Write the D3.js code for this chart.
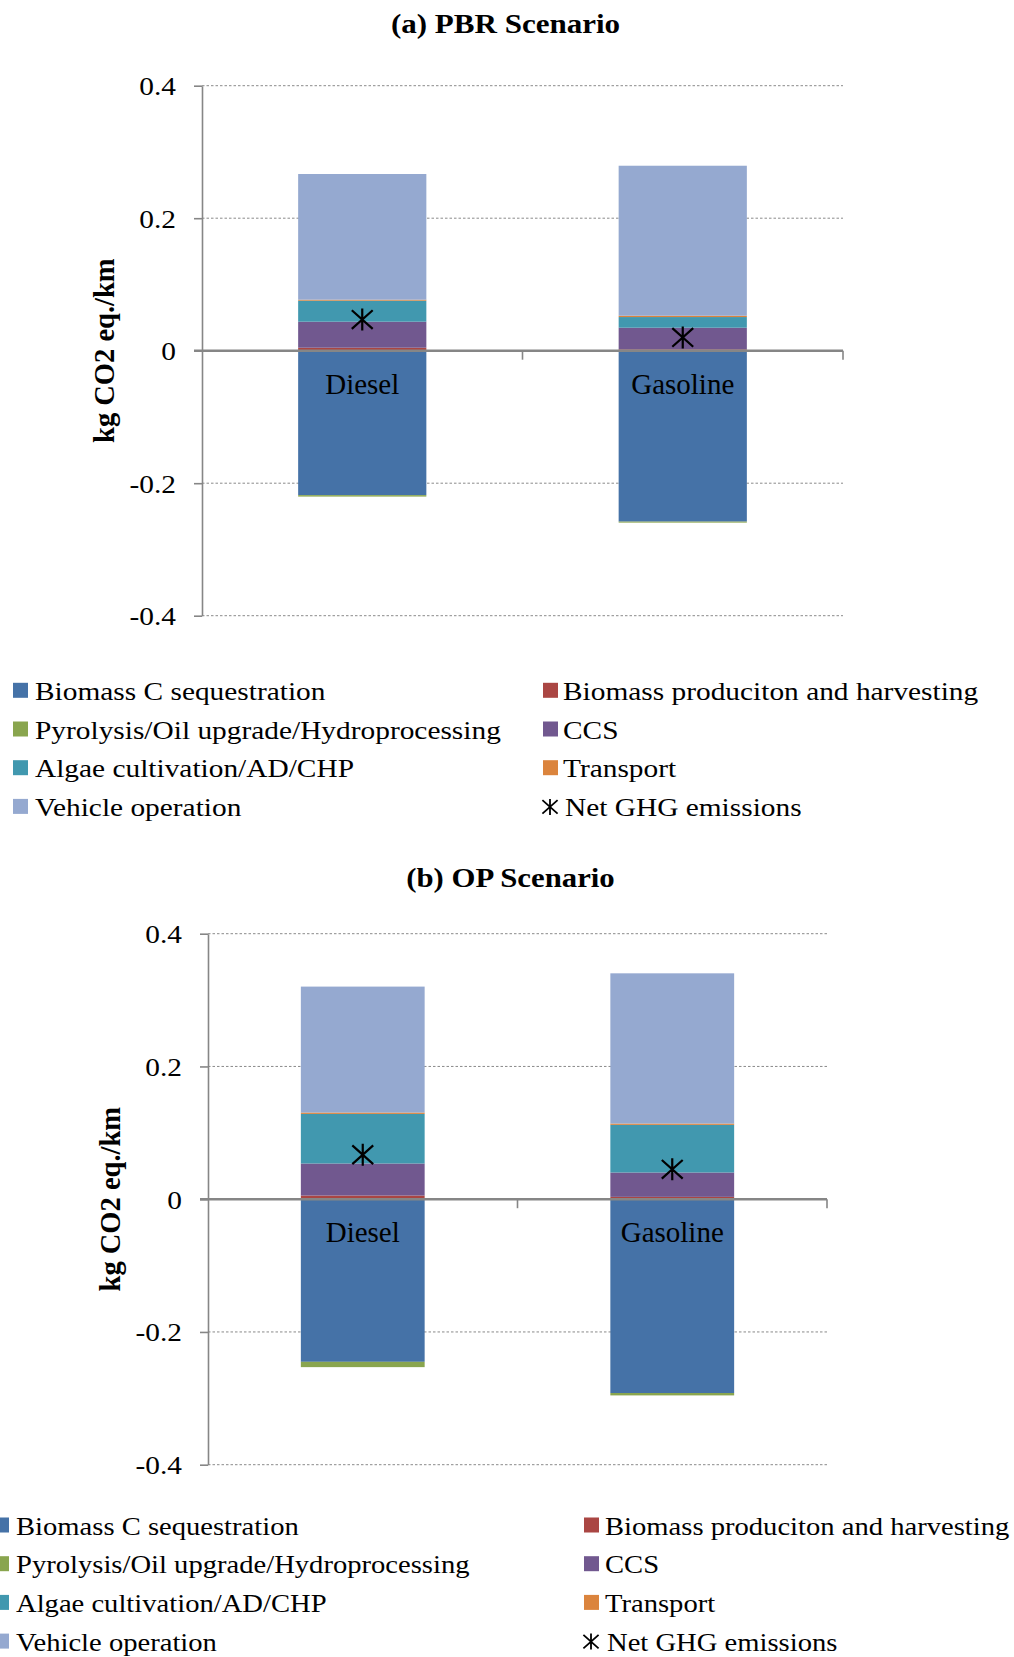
<!DOCTYPE html>
<html>
<head>
<meta charset="utf-8">
<script src="https://cdn.jsdelivr.net/npm/d3@7"></script>
<style>
  body { margin: 0; background: #fff; }
  svg { display: block; font-family: "Liberation Serif", "Times New Roman", serif; }
</style>
</head>
<body>
<svg id="chart" width="1014" height="1657"></svg>
<script>
// ---------------- DATA ----------------
const categories = ["Diesel", "Gasoline"];
const seriesNames = [
  "Biomass C sequestration",
  "Biomass produciton and harvesting",
  "Pyrolysis/Oil upgrade/Hydroprocessing",
  "CCS",
  "Algae cultivation/AD/CHP",
  "Transport",
  "Vehicle operation"
];
const seriesColors = ["#4572A7", "#AA4643", "#89A54E", "#71588F", "#4198AF", "#DB843D", "#95A9D0"];
const netName = "Net GHG emissions";

// values in series order (kg CO2 eq./km)
const pbrDiesel   = [-0.218, 0.0045, -0.0022, 0.0393, 0.0317, 0.0015, 0.1897];
const pbrGasoline = [-0.258, 0.0020, -0.0015, 0.0327, 0.0161, 0.0020, 0.2264];
const opDiesel    = [-0.245, 0.0055, -0.0080, 0.0483, 0.0747, 0.0021, 0.1897];
const opGasoline  = [-0.292, 0.0035, -0.0036, 0.0367, 0.0718, 0.0020, 0.2263];
const pbrNet = [0.047, 0.020];
const opNet  = [0.067, 0.045];

const yTicks = [-0.4, -0.2, 0, 0.2, 0.4];
const yTickLabels = ["-0.4", "-0.2", "0", "0.2", "0.4"];
const yLabel = "kg CO2 eq./km";
const titles = ["(a) PBR Scenario", "(b) OP Scenario"];

// ---------------- LAYOUT ----------------
const svg = d3.select("#chart");
svg.append("rect").attr("width", 1014).attr("height", 1657).attr("fill", "#fff");

function addText(g, x, y, str, o) {
  return g.append("text")
    .attr("transform", `translate(${x},${y}) scale(${o.sx || 1},1)`)
    .attr("text-anchor", o.anchor || "start")
    .attr("font-size", o.size)
    .attr("font-weight", o.weight || "normal")
    .attr("fill", "#000")
    .text(str);
}

function asterisk(g, cx, cy, r, w) {
  const p = d3.path();
  p.moveTo(cx, cy - r); p.lineTo(cx, cy + r);
  p.moveTo(cx - r * 0.95, cy - r * 0.85); p.lineTo(cx + r * 0.95, cy + r * 0.85);
  p.moveTo(cx - r * 0.95, cy + r * 0.85); p.lineTo(cx + r * 0.95, cy - r * 0.85);
  g.append("path").attr("d", p.toString()).attr("stroke", "#000")
    .attr("stroke-width", w).attr("fill", "none");
}

const panels = [
  { title: titles[0], titleX: 505.5, titleY: 33, titleSx: 1.15, rows: [pbrDiesel, pbrGasoline], net: pbrNet,
    x0: 202, x1: 843, yTop: 85.7, yBot: 615.7, labelX: 114,
    legY: 699.8, legSx: 1.13, legL: { sq: 13, tx: 35 }, legR: { sq: 543, tx: 563 } },
  { title: titles[1], titleX: 510.5, titleY: 887, titleSx: 1.14, rows: [opDiesel, opGasoline], net: opNet,
    x0: 208, x1: 827, yTop: 933.7, yBot: 1464.7, labelX: 120,
    legY: 1534.5, legSx: 1.10, legL: { sq: -6, tx: 16 }, legR: { sq: 584, tx: 605 } }
];

panels.forEach(P => {
  const g = svg.append("g");
  const x = d3.scaleBand().domain(categories).range([P.x0, P.x1])
    .paddingInner(0.6).paddingOuter(0.3);
  const y = d3.scaleLinear().domain([-0.4, 0.4]).range([P.yBot, P.yTop]);

  // title
  addText(g, P.titleX, P.titleY, P.title, { size: 27, weight: "bold", anchor: "middle", sx: P.titleSx });

  // gridlines
  g.append("g").selectAll("line").data(yTicks.filter(v => v !== 0)).join("line")
    .attr("x1", P.x0).attr("x2", P.x1)
    .attr("y1", d => y(d)).attr("y2", d => y(d))
    .attr("stroke", "#8a8a8a").attr("stroke-width", 1).attr("stroke-dasharray", "2.5,2");

  // stacked bars
  const data = categories.map((c, i) => {
    const o = { cat: c };
    P.rows[i].forEach((v, k) => o[k] = v);
    return o;
  });
  const stack = d3.stack().keys(d3.range(seriesNames.length)).offset(d3.stackOffsetDiverging);
  const layers = stack(data);
  g.append("g").selectAll("g").data(layers).join("g")
    .attr("fill", (d, i) => seriesColors[i])
    .selectAll("rect").data(d => d).join("rect")
    .attr("x", d => x(d.data.cat))
    .attr("width", x.bandwidth())
    .attr("y", d => y(Math.max(d[0], d[1])))
    .attr("height", d => Math.abs(y(d[0]) - y(d[1])));

  // y axis
  const yAxis = d3.axisLeft(y).tickValues(yTicks)
    .tickFormat((d, i) => yTickLabels[i]).tickSize(8).tickSizeOuter(0);
  const ya = g.append("g").attr("transform", `translate(${P.x0},0)`).call(yAxis);
  ya.select(".domain").attr("stroke", "#868686").attr("stroke-width", 1.6);
  ya.selectAll(".tick line").attr("stroke", "#868686").attr("stroke-width", 1.6);
  ya.selectAll(".tick text")
    .attr("x", null).attr("dy", "0.34em")
    .attr("transform", "translate(-26,0) scale(1.13,1)")
    .attr("font-family", "Liberation Serif")
    .attr("font-size", 26).attr("fill", "#000");

  // zero line (category axis) with ticks at category boundaries
  const y0 = y(0);
  g.append("line").attr("x1", P.x0 - 8).attr("x2", P.x1).attr("y1", y0).attr("y2", y0)
    .attr("stroke", "#868686").attr("stroke-width", 2.6);
  const bounds = d3.range(categories.length + 1).map(i => x.range()[0] + i * x.step());
  g.append("g").selectAll("line").data(bounds.slice(1)).join("line")
    .attr("x1", d => d).attr("x2", d => d).attr("y1", y0).attr("y2", y0 + 9)
    .attr("stroke", "#868686").attr("stroke-width", 1.6);

  // net markers
  categories.forEach((c, i) => {
    asterisk(g, x(c) + x.bandwidth() / 2, y(P.net[i]), 11, 2.2);
  });

  // category labels inside bars
  categories.forEach(c => {
    addText(g, x(c) + x.bandwidth() / 2, y0 + 43, c, { size: 29, anchor: "middle" });
  });

  // y label
  g.append("text")
    .attr("transform", `translate(${P.labelX},${y0}) rotate(-90)`)
    .attr("text-anchor", "middle").attr("font-size", 28.5).attr("font-weight", "bold")
    .text(yLabel);

  // legend
  const items = seriesNames.map((n, i) => ({ name: n, color: seriesColors[i] }));
  items.push({ name: netName, marker: true });
  items.forEach((it, i) => {
    const col = i % 2 === 0 ? P.legL : P.legR;
    const row = Math.floor(i / 2);
    const by = P.legY + row * 38.7;
    if (it.marker) {
      asterisk(g, col.sq + 7, by - 9, 8, 1.8);
      addText(g, col.tx + 2, by, it.name, { size: 26, sx: P.legSx });
    } else {
      g.append("rect").attr("x", col.sq).attr("y", by - 17).attr("width", 15).attr("height", 15)
        .attr("fill", it.color);
      addText(g, col.tx, by, it.name, { size: 26, sx: P.legSx });
    }
  });
});
</script>
</body>
</html>
